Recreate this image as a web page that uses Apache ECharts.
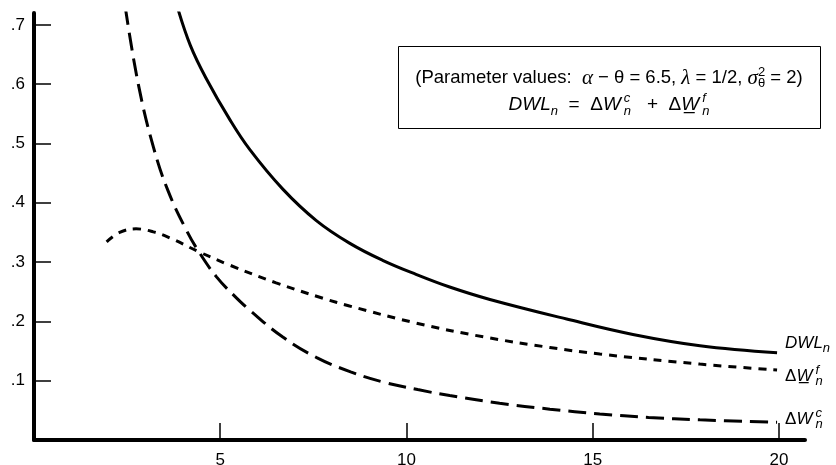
<!DOCTYPE html>
<html>
<head>
<meta charset="utf-8">
<script src="https://cdn.jsdelivr.net/npm/echarts@6/dist/echarts.min.js"></script>
<style>
  html, body { margin: 0; padding: 0; background: #fff; }
  #chart { width: 836px; height: 465px; }
</style>
</head>
<body>
<div id="chart"></div>
<script>
// n values and heights
var nDWL = [3.85, 4.2, 4.62, 5.25, 5.79, 6.68, 7.58, 8.47, 9.36, 10.27, 11.16, 12.24, 14.3, 16.08, 17.88, 19.95];
var vDWL = [0.73, 0.665, 0.61, 0.541, 0.49, 0.423, 0.37, 0.332, 0.303, 0.279, 0.258, 0.237, 0.204, 0.178, 0.159, 0.147];

var nF = [1.95, 2.3, 2.74, 3.2, 3.64, 4.44, 5.25, 6.5, 7.76, 8.47, 10.27, 12.06, 13.85, 15.19, 17.88, 19.95];
var vF = [0.334, 0.35, 0.356, 0.351, 0.341, 0.317, 0.295, 0.265, 0.239, 0.226, 0.197, 0.174, 0.156, 0.145, 0.128, 0.118];

var nC = [2.45, 2.8, 3.21, 3.6, 4.09, 4.44, 4.9, 5.38, 5.79, 6.67, 7.59, 8.5, 9.36, 10.3, 11.16, 12.5, 13.85, 15.19, 16.5, 17.88, 19.95];
var vC = [0.73, 0.60, 0.493, 0.42, 0.354, 0.316, 0.275, 0.243, 0.219, 0.174, 0.139, 0.115, 0.098, 0.085, 0.075, 0.062, 0.052, 0.044, 0.038, 0.034, 0.030];

var xTicks = [5, 10, 15, 20];
var yTicks = [0.1, 0.2, 0.3, 0.4, 0.5, 0.6, 0.7];

function pairs(xs, ys) {
  var out = [];
  for (var i = 0; i < xs.length; i++) out.push([xs[i], ys[i]]);
  return out;
}

var sans = 'Liberation Sans';
// end labels
var rich = {
  i: { fontFamily: sans, fontStyle: 'italic', fontSize: 17, color: '#000', lineHeight: 24, align: 'left' },
  r: { fontFamily: sans, fontSize: 17, color: '#000', lineHeight: 24, align: 'left' },
  // superscript has no width so the subscript sits right under it
  sp: { fontFamily: sans, fontStyle: 'italic', fontSize: 13, color: '#000', lineHeight: 13, verticalAlign: 'top', width: 0, align: 'left', padding: [0, 0, 0, 3] },
  sb: { fontFamily: sans, fontStyle: 'italic', fontSize: 13, color: '#000', lineHeight: 13, verticalAlign: 'bottom', align: 'left' }
};
// text in the box
var boxRich = {
  t: { fontFamily: sans, fontSize: 18.5, color: '#000', lineHeight: 24, align: 'left' },
  g: { fontFamily: 'Liberation Serif', fontStyle: 'italic', fontSize: 21, color: '#000', lineHeight: 24, align: 'left' },
  i: { fontFamily: sans, fontStyle: 'italic', fontSize: 19, color: '#000', lineHeight: 26, align: 'left' },
  r: { fontFamily: sans, fontSize: 19, color: '#000', lineHeight: 26, align: 'left' },
  sp: { fontFamily: sans, fontStyle: 'italic', fontSize: 13, color: '#000', lineHeight: 13, verticalAlign: 'top', width: 0, align: 'left', padding: [0, 0, 0, 3] },
  sb: { fontFamily: sans, fontStyle: 'italic', fontSize: 13, color: '#000', lineHeight: 13, verticalAlign: 'bottom', align: 'left' },
  psp: { fontFamily: sans, fontSize: 13, color: '#000', lineHeight: 12, verticalAlign: 'top', width: 0, align: 'left' },
  psb: { fontFamily: sans, fontSize: 13, color: '#000', lineHeight: 12, verticalAlign: 'bottom', align: 'left' }
};

var chart = echarts.init(document.getElementById('chart'));

var option = {
  animation: false,
  backgroundColor: '#fff',
  grid: { left: 34, right: 31, top: 13, bottom: 25, outerBoundsMode: 'none' },
  xAxis: {
    type: 'value',
    min: 0,
    max: 20.7,
    splitLine: { show: false },
    axisLine: { lineStyle: { color: '#000', width: 4 } },
    axisTick: { inside: true, length: 17, customValues: xTicks, lineStyle: { color: '#000', width: 1.5 } },
    axisLabel: { customValues: xTicks, color: '#000', fontFamily: sans, fontSize: 17, margin: 12 }
  },
  yAxis: {
    type: 'value',
    min: 0,
    max: 0.72,
    splitLine: { show: false },
    axisLine: { lineStyle: { color: '#000', width: 4 } },
    axisTick: { inside: true, length: 17, customValues: yTicks, lineStyle: { color: '#000', width: 1.5 } },
    axisLabel: {
      customValues: yTicks, color: '#000', fontFamily: sans, fontSize: 17, margin: 9,
      formatter: function (v) { return v.toFixed(1).replace(/^0/, ''); }
    }
  },
  graphic: [
    {
      type: 'rect', left: 398, top: 46, z: 10,
      shape: { width: 422, height: 82 },
      style: { fill: '#fff', stroke: '#000', lineWidth: 1 }
    },
    {
      type: 'text', x: 609, y: 78, z: 11,
      style: {
        text: '{t|(Parameter values:  }{g|α}{t| − θ = 6.5, }{g|λ}{t| = 1/2, }{g|σ}{psp|2}{psb|θ}{t| = 2)}',
        align: 'center', verticalAlign: 'middle', rich: boxRich
      }
    },
    {
      type: 'text', x: 609, y: 105, z: 11,
      style: {
        text: '{i|DWL}{sb|n}{r|  =  Δ}{i|W}{sp|c}{sb|n}{r|   +  Δ}{i|W\u0332}{sp|f}{sb|n}',
        align: 'center', verticalAlign: 'middle', rich: boxRich
      }
    }
  ],
  series: [
    {
      name: 'DWL',
      type: 'line',
      smooth: 0.4,
      symbol: 'none',
      data: pairs(nDWL, vDWL),
      lineStyle: { color: '#000', width: 3 },
      endLabel: { show: true, offset: [0, -10], formatter: '{i|DWL}{sb|n}', rich: rich }
    },
    {
      name: 'Wf',
      type: 'line',
      smooth: 0.4,
      symbol: 'none',
      data: pairs(nF, vF),
      lineStyle: { color: '#000', width: 3, type: [8, 7] },
      endLabel: { show: true, offset: [0, 6], formatter: '{r|Δ}{i|W\u0332}{sp|f}{sb|n}', rich: rich }
    },
    {
      name: 'Wc',
      type: 'line',
      smooth: 0.4,
      symbol: 'none',
      data: pairs(nC, vC),
      lineStyle: { color: '#000', width: 3, type: [18, 8] },
      endLabel: { show: true, offset: [0, -3], formatter: '{r|Δ}{i|W}{sp|c}{sb|n}', rich: rich }
    }
  ]
};

chart.setOption(option);
</script>
</body>
</html>
